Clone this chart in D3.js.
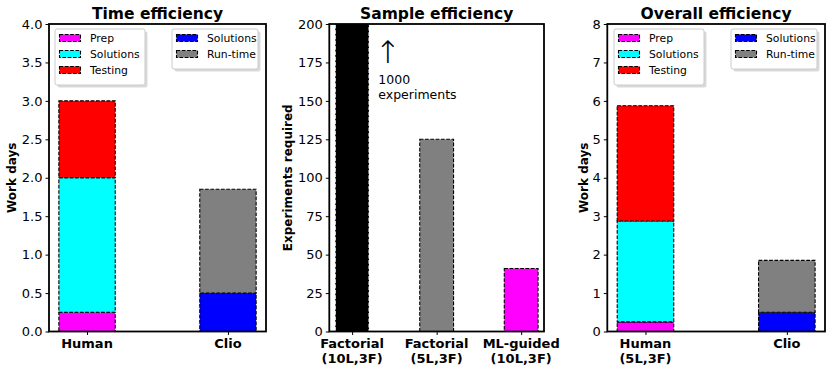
<!DOCTYPE html>
<html>
<meta charset="utf-8">
<style>
body { margin: 0; background: #fff; }
svg text { font-family: "DejaVu Sans", sans-serif; fill: #000; }
</style>
<body>
<script src="https://cdn.jsdelivr.net/npm/d3@7/dist/d3.min.js"></script>
<script>
// ---- data ----
var timeCats = ["Human", "Clio"];
var timeHuman = [0.25, 1.75, 1.0];          // Prep, Solutions, Testing
var timeClio = [0.5, 1.35];                 // Solutions, Run-time
var timeTicks = ["0.0", "0.5", "1.0", "1.5", "2.0", "2.5", "3.0", "3.5", "4.0"];

var sampleCats = [["Factorial", "(10L,3F)"], ["Factorial", "(5L,3F)"], ["ML-guided", "(10L,3F)"]];
var sampleValues = [1000, 125, 41];
var sampleTicks = ["0", "25", "50", "75", "100", "125", "150", "175", "200"];

var overallCats = [["Human", "(5L,3F)"], ["Clio"]];
var overallHuman = [0.25, 2.625, 3.0];
var overallClio = [0.5, 1.35];
var overallTicks = ["0", "1", "2", "3", "4", "5", "6", "7", "8"];

var humanLabels = ["Prep", "Solutions", "Testing"];
var clioLabels = ["Solutions", "Run-time"];
var humanColors = ["#ff00ff", "#00ffff", "#ff0000"];
var clioColors = ["#0000ff", "#808080"];

var W = 831, H = 372;
var yTop = 24, yBottom = 331.5;

var svg = d3.select("body").append("svg")
    .attr("width", W)
    .attr("height", H);

function stackUp(vals) {
  var acc = 0;
  return vals.map(function(v) { var s = {y0: acc, y1: acc + v}; acc += v; return s; });
}

function makeAxes(opt) {
  var g = svg.append("g");
  var x = d3.scaleLinear().domain([-0.27, opt.n - 1 + 0.27]).range([opt.left, opt.right]);
  var y = d3.scaleLinear().domain([0, opt.ymax]).range([yBottom, yTop]);

  // y axis ticks
  var yAxis = d3.axisLeft(y)
      .tickValues(opt.ticks.map(Number))
      .tickFormat(function(d, i) { return opt.ticks[i]; })
      .tickSize(3.5)
      .tickPadding(3);
  var ya = g.append("g").attr("transform", "translate(" + opt.left + ",0)").call(yAxis);
  ya.select(".domain").remove();
  ya.selectAll("text").style("font-size", "13px").attr("font-family", null);
  ya.selectAll("line").attr("stroke-width", 1);

  // x ticks
  var xa = g.append("g").attr("transform", "translate(0," + yBottom + ")")
      .call(d3.axisBottom(x).tickValues(d3.range(opt.n)).tickSize(3.5).tickFormat(""));
  xa.select(".domain").remove();
  xa.selectAll("line").attr("stroke-width", 1);

  opt.cats.forEach(function(c, i) {
    var t = g.append("text")
        .attr("x", x(i))
        .attr("y", yBottom + 16.5)
        .attr("text-anchor", "middle")
        .style("font-size", "13px")
        .style("font-weight", "bold");
    c.forEach(function(line, j) {
      t.append("tspan").attr("x", x(i)).attr("dy", j === 0 ? 0 : 14.5).text(line);
    });
  });

  // title
  g.append("text")
      .attr("x", (opt.left + opt.right) / 2)
      .attr("y", 19)
      .attr("text-anchor", "middle")
      .style("font-size", "15.5px")
      .style("font-weight", "bold")
      .text(opt.title);

  // y label
  g.append("text")
      .attr("transform", "translate(" + opt.ylabelX + "," + ((yTop + yBottom) / 2) + ") rotate(-90)")
      .attr("text-anchor", "middle")
      .attr("dominant-baseline", "central")
      .style("font-size", "12px")
      .style("font-weight", "bold")
      .text(opt.ylabel);

  var clip = "clip" + opt.id;
  svg.append("clipPath").attr("id", clip).append("rect")
      .attr("x", opt.left).attr("y", yTop)
      .attr("width", opt.right - opt.left).attr("height", yBottom - yTop);
  var plot = g.append("g").attr("clip-path", "url(#" + clip + ")");

  return {g: g, plot: plot, x: x, y: y};
}

function bar(plot, x, y, i, y0, y1, fill, edge) {
  var bw = 0.4;
  plot.append("rect")
      .attr("x", x(i - bw / 2))
      .attr("width", x(i + bw / 2) - x(i - bw / 2))
      .attr("y", y(y1))
      .attr("height", y(y0) - y(y1))
      .attr("fill", fill)
      .attr("stroke", edge)
      .attr("stroke-width", 1.1)
      .attr("stroke-dasharray", "3.7,1.6");
}

function spines(opt) {
  svg.append("rect")
      .attr("x", opt.left).attr("y", yTop)
      .attr("width", opt.right - opt.left).attr("height", yBottom - yTop)
      .attr("fill", "none")
      .attr("stroke", "#000")
      .attr("stroke-width", 1.8);
}

function legend(x0, y0, w, labels, colors) {
  var h = 8 + labels.length * 16;
  var lg = svg.append("g").attr("transform", "translate(" + x0 + "," + y0 + ")");
  lg.append("rect").attr("x", 2.5).attr("y", 2.5).attr("width", w).attr("height", h)
      .attr("rx", 2).attr("fill", "#b3b3b3").attr("opacity", 0.5);
  lg.append("rect").attr("width", w).attr("height", h).attr("rx", 2)
      .attr("fill", "#fff").attr("stroke", "#cccccc").attr("stroke-width", 1);
  labels.forEach(function(l, i) {
    var cy = 9 + i * 16;
    lg.append("rect").attr("x", 4.5).attr("y", cy - 3.5).attr("width", 21).attr("height", 7)
        .attr("fill", colors[i]).attr("stroke", "#000").attr("stroke-width", 1.1)
        .attr("stroke-dasharray", "3.7,1.6");
    lg.append("text").attr("x", 35).attr("y", cy).attr("dominant-baseline", "central")
        .style("font-size", "10.8px").text(l);
  });
}

// ---- panel 1: time efficiency ----
var p1 = {id: 1, left: 49, right: 266, n: 2, ymax: 4, ticks: timeTicks,
  cats: timeCats.map(function(c) { return [c]; }), title: "Time efficiency",
  ylabel: "Work days", ylabelX: 12};
var a1 = makeAxes(p1);
stackUp(timeHuman).forEach(function(s, k) { bar(a1.plot, a1.x, a1.y, 0, s.y0, s.y1, humanColors[k], "#000"); });
stackUp(timeClio).forEach(function(s, k) { bar(a1.plot, a1.x, a1.y, 1, s.y0, s.y1, clioColors[k], "#000"); });
spines(p1);
legend(55, 29, 90, humanLabels, humanColors);
legend(172, 29, 86, clioLabels, clioColors);

// ---- panel 2: sample efficiency ----
var p2 = {id: 2, left: 329.3, right: 544, n: 3, ymax: 200, ticks: sampleTicks,
  cats: sampleCats, title: "Sample efficiency", ylabel: "Experiments required", ylabelX: 287.7};
var a2 = makeAxes(p2);
var sampleFill = ["#000000", "#808080", "#ff00ff"];
var sampleEdge = ["#ffffff", "#000000", "#000000"];
sampleValues.forEach(function(v, i) { bar(a2.plot, a2.x, a2.y, i, 0, v, sampleFill[i], sampleEdge[i]); });
spines(p2);
a2.g.append("text").attr("x", 388).attr("y", 63).attr("text-anchor", "middle")
    .style("font-size", "31px").style("font-weight", "200").text("\u2191");
var ann = a2.g.append("text").attr("x", a2.x(0.31)).attr("y", 84).style("font-size", "12.5px");
ann.append("tspan").attr("x", a2.x(0.31)).text("1000");
ann.append("tspan").attr("x", a2.x(0.31)).attr("dy", 14.5).text("experiments");

// ---- panel 3: overall efficiency ----
var p3 = {id: 3, left: 607.3, right: 825, n: 2, ymax: 8, ticks: overallTicks,
  cats: overallCats, title: "Overall efficiency", ylabel: "Work days", ylabelX: 584};
var a3 = makeAxes(p3);
stackUp(overallHuman).forEach(function(s, k) { bar(a3.plot, a3.x, a3.y, 0, s.y0, s.y1, humanColors[k], "#000"); });
stackUp(overallClio).forEach(function(s, k) { bar(a3.plot, a3.x, a3.y, 1, s.y0, s.y1, clioColors[k], "#000"); });
spines(p3);
legend(614, 29, 90, humanLabels, humanColors);
legend(731, 29, 86, clioLabels, clioColors);
</script>
</body>
</html>
